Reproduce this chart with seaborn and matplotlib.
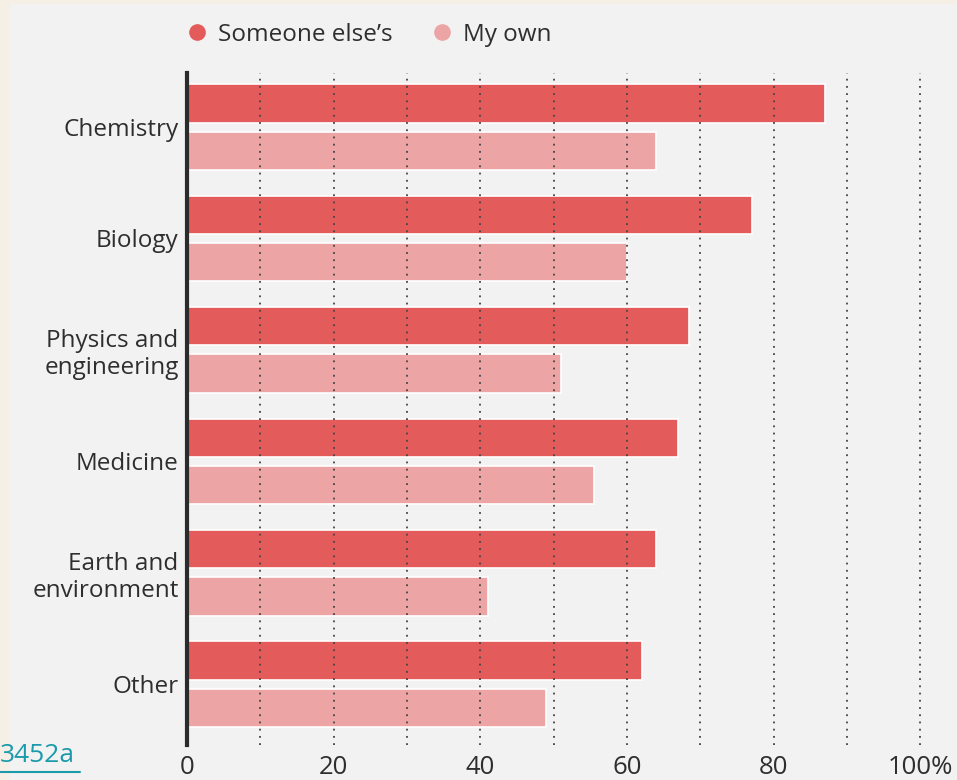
import matplotlib.pyplot as plt
from matplotlib.lines import Line2D
from matplotlib.patches import Rectangle
import seaborn as sns
import pandas as pd

fields = ['Chemistry', 'Biology', 'Physics and\nengineering', 'Medicine',
          'Earth and\nenvironment', 'Other']
someone_else = [87, 77, 68.5, 67, 64, 62]
my_own = [64, 60, 51, 55.5, 41, 49]
series = ["Someone else\u2019s", 'My own']
colors = ['#e35b5b', '#eda4a4']

df = pd.DataFrame({
    'field': fields * 2,
    'value': someone_else + my_own,
    'series': [series[0]] * len(fields) + [series[1]] * len(fields),
})

sns.set_style('white')
plt.rcParams['font.family'] = ['Open Sans', 'DejaVu Sans']

fig = plt.figure(figsize=(9.57, 7.80), dpi=100)
fig.set_facecolor('#f6efe6')
fig.add_artist(Rectangle((10 / 957, 0), 1, 1 - 4 / 780, transform=fig.transFigure,
                         facecolor='#f2f2f2', edgecolor='none', zorder=0))

ax = fig.add_axes([187 / 957, 35 / 780, 1 - 187 / 957, (745 - 73) / 780])
ax.patch.set_alpha(0)

sns.barplot(data=df, y='field', x='value', hue='series', orient='h',
            palette=colors, saturation=1, width=0.85, gap=0.19,
            edgecolor='white', linewidth=1.2, legend=False, ax=ax)

ax.set_xlim(0, 105)
ax.set_ylim(5.545, -0.485)
for x in range(10, 101, 10):
    ax.axvline(x, color='#444444', lw=1.3, ls=(0, (1, 3)), zorder=5)

for s in ['top', 'right', 'bottom']:
    ax.spines[s].set_visible(False)
ax.spines['left'].set_color('#2b2b2b')
ax.spines['left'].set_linewidth(3)
ax.spines['left'].set_zorder(6)

ax.set_xticks(range(0, 101, 20))
ax.set_xticklabels(['0', '20', '40', '60', '80', '100%'])
ax.tick_params(axis='x', length=0, labelsize=18.5, colors='#2e2e2e', pad=7)
ax.tick_params(axis='y', which='major', length=0, labelsize=17.5,
               colors='#2e2e2e', pad=6)
ax.set_yticks([0.5, 1.5, 2.5, 3.5, 4.5], minor=True)
ax.tick_params(axis='y', which='minor', length=7, width=1, color='#888888')
for lab in ax.get_yticklabels():
    lab.set_horizontalalignment('right')
    lab.set_linespacing(1.15)
ax.set_xlabel('')
ax.set_ylabel('')

handles = [Line2D([], [], marker='o', ls='', markersize=12,
                  markerfacecolor=c, markeredgecolor='none') for c in colors]
fig.legend(handles, series, loc='center left', bbox_to_anchor=(185 / 957, 1 - 35 / 780),
           ncol=2, frameon=False, fontsize=17.5, handletextpad=0.35, handlelength=1.0,
           borderpad=0, borderaxespad=0, columnspacing=1.55, labelcolor='#2e2e2e')

fig.text(0, 1 - 756 / 780, '3452a', color='#1a9aaa', fontsize=19,
         ha='left', va='center')
fig.add_artist(Line2D([0, 80 / 957], [1 - 772 / 780] * 2, color='#1a9aaa',
                      lw=1.5, transform=fig.transFigure))

fig.savefig('out.png', dpi=100)
